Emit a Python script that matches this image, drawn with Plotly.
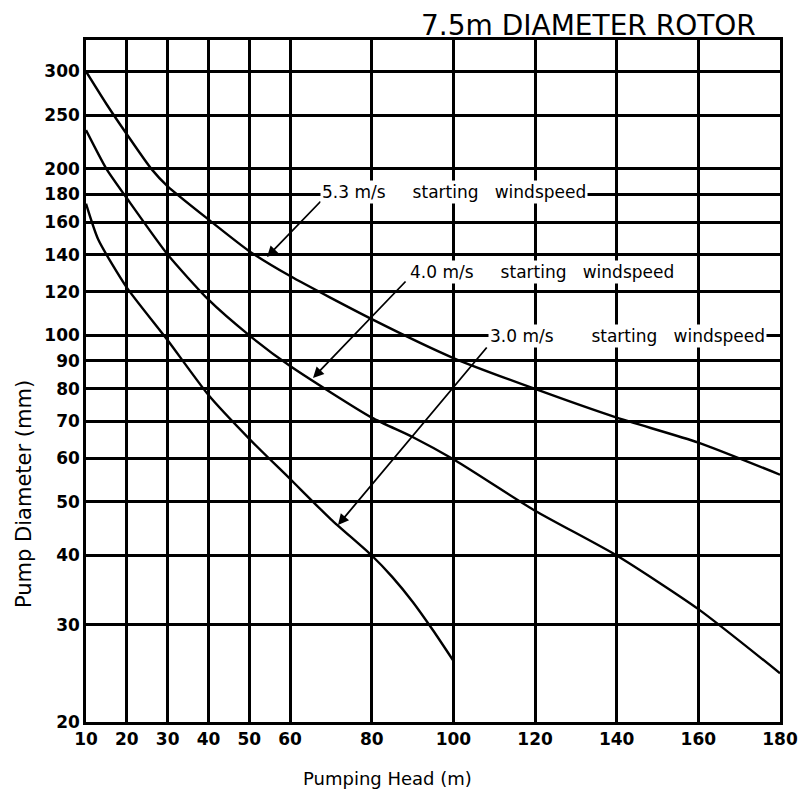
import plotly.graph_objects as go
import math

# ---- data ----
head_53 = [10, 15, 20, 26, 30, 40, 50, 60, 80, 100, 120, 140, 160, 180]
diam_53 = [300, 262, 231, 200, 186, 162, 142, 128, 107, 91, 80, 71, 64, 56]

head_40 = [10, 15, 20, 30, 40, 50, 60, 80, 90, 100, 120, 140, 160, 180]
diam_40 = [235, 200, 177, 140, 116, 100, 88, 71, 65.5, 59.7, 48.2, 40, 32, 24.5]

head_30 = [10, 13, 20, 30, 40, 50, 60, 70, 80, 85, 90, 95, 100]
diam_30 = [173, 149, 122, 98, 78, 65, 55, 46.5, 40, 36.6, 33.0, 29.3, 25.8]

x_ticks = [10, 20, 30, 40, 50, 60, 80, 100, 120, 140, 160, 180]
y_ticks = [20, 30, 40, 50, 60, 70, 80, 90, 100, 120, 140, 160, 180, 200, 250, 300]

series = [
    ("5.3 m/s", head_53, diam_53),
    ("4.0 m/s", head_40, diam_40),
    ("3.0 m/s", head_30, diam_30),
]

FONT = "DejaVu Sans"
L, R, T, B = 86, 20, 40, 71
W, H = 800, 793
Y_LO, Y_HI = math.log10(20), math.log10(342)

fig = go.Figure()
for name, xs, ys in series:
    fig.add_trace(go.Scatter(x=xs, y=ys, mode="lines", name=name,
                             line=dict(color="black", width=2.4, shape="spline", smoothing=0.6),
                             showlegend=False, hoverinfo="skip"))

fig.update_layout(
    width=W, height=H,
    margin=dict(l=L, r=R, t=T, b=B, autoexpand=False),
    paper_bgcolor="white", plot_bgcolor="white",
    font=dict(family=FONT, color="black", size=16),
    xaxis=dict(range=[10, 180], tickvals=x_ticks, ticktext=[str(v) for v in x_ticks],
               showgrid=True, gridcolor="black", gridwidth=2.6,
               showline=True, linecolor="black", linewidth=2.6, mirror=True,
               ticks="", zeroline=False, automargin=False, ticklabeloverflow="allow",
               tickfont=dict(family=FONT, size=17, color="black", weight="bold")),
    yaxis=dict(type="log", range=[Y_LO, Y_HI],
               tickvals=y_ticks, ticktext=[str(v) for v in y_ticks],
               showgrid=True, gridcolor="black", gridwidth=2.6,
               showline=True, linecolor="black", linewidth=2.6, mirror=True,
               ticks="", zeroline=False, automargin=False, ticklabeloverflow="allow",
               tickfont=dict(family=FONT, size=17, color="black", weight="bold")),
)

def py2log(py):
    top, bottom = T, H - B
    return Y_LO + (bottom - py) / (bottom - top) * (Y_HI - Y_LO)

def px2x(px):
    return 10 + (px - L) / (W - L - R) * 170

nb = "\u00a0"
labels = [
    ("5.3 m/s" + nb*5 + "starting" + nb*3 + "windspeed", 320, 192, 267, 257, 322, 200),
    ("4.0 m/s" + nb*5 + "starting" + nb*3 + "windspeed", 408, 272, 313, 378, 407, 280),
    ("3.0 m/s" + nb*7 + "starting" + nb*3 + "windspeed", 488, 336, 338, 525, 488, 346),
]

for text, tpx, tpy, tipx, tipy, tailx, taily in labels:
    fig.add_annotation(x=px2x(tipx), y=py2log(tipy), xref="x", yref="y", text="",
                       showarrow=True, arrowhead=2, arrowsize=1.2, arrowwidth=1.8,
                       arrowcolor="black", ax=tailx - tipx, ay=taily - tipy)
    fig.add_annotation(x=px2x(tpx), y=py2log(tpy), xref="x", yref="y", text=text,
                       showarrow=False, xanchor="left", yanchor="middle",
                       bgcolor="white", borderpad=1,
                       font=dict(family=FONT, size=17, color="black"))

# title
fig.add_annotation(x=(588 - L) / (W - L - R), y=(H - B - 25) / (H - B - T),
                   xref="paper", yref="paper", xanchor="center", yanchor="middle",
                   text="7.5m DIAMETER ROTOR", showarrow=False,
                   font=dict(family=FONT, size=28, color="black"))

# axis titles
fig.add_annotation(x=(387 - L) / (W - L - R), y=-(778 - (H - B)) / (H - B - T),
                   xref="paper", yref="paper", xanchor="center", yanchor="middle",
                   text="Pumping Head (m)", showarrow=False,
                   font=dict(family=FONT, size=18, color="black"))
fig.add_annotation(x=-(L - 24) / (W - L - R), y=(H - B - 494) / (H - B - T),
                   xref="paper", yref="paper", xanchor="center", yanchor="middle",
                   text="Pump Diameter (mm)", showarrow=False, textangle=-90,
                   font=dict(family=FONT, size=21, color="black"))

fig.write_html("out.html", config={"displayModeBar": False},
               post_script="document.body.style.margin='0';document.body.style.padding='0';")
